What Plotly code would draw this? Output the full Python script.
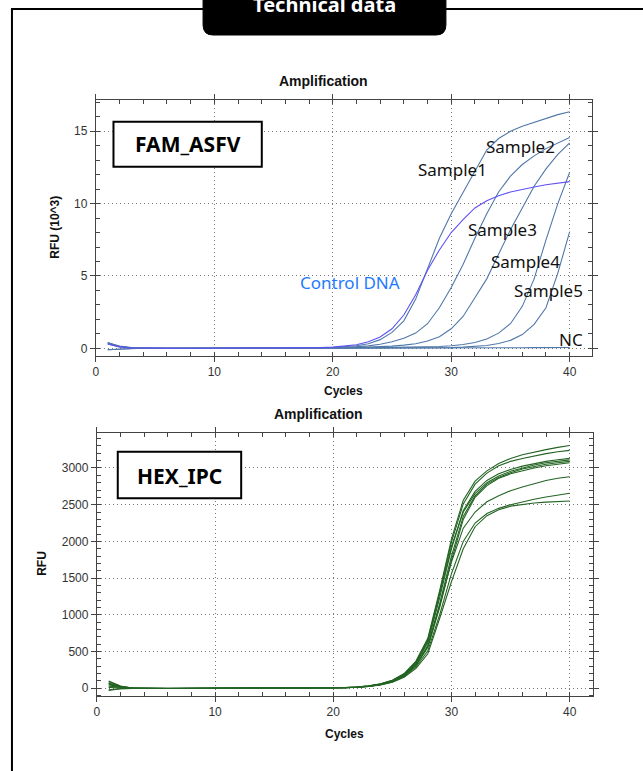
import plotly.graph_objects as go

W, H = 643, 771

cycles = list(range(1, 41))

# ---------------- FAM_ASFV (RFU x10^3) ----------------
fam_sample1 = [0.38, 0.15, 0.05, 0.02, 0.01, 0.00, 0.00, -0.01, 0.00, 0.00,
               -0.01, 0.00, 0.00, 0.00, 0.00, 0.01, 0.01, 0.02, 0.04, 0.06,
               0.10, 0.18, 0.32, 0.60, 1.10, 1.90, 3.40, 5.50, 7.60, 9.30,
               10.80, 12.30, 13.70, 14.50, 15.00, 15.35, 15.62, 15.88, 16.15, 16.35]
fam_sample2 = [-0.10, -0.05, -0.02, 0.00, 0.00, 0.00, -0.01, 0.00, 0.00, 0.00,
               0.00, -0.01, 0.00, 0.00, 0.00, 0.00, 0.01, 0.01, 0.02, 0.03,
               0.05, 0.10, 0.17, 0.28, 0.45, 0.70, 1.05, 1.70, 2.80, 4.20,
               5.80, 7.60, 9.30, 10.80, 11.90, 12.70, 13.30, 13.80, 14.20, 14.56]
fam_sample3 = [0.40, 0.12, 0.02, 0.00, 0.00, -0.01, 0.00, 0.00, 0.00, 0.00,
               0.00, 0.00, -0.01, 0.00, 0.00, 0.00, 0.00, 0.01, 0.02, 0.03,
               0.04, 0.05, 0.07, 0.10, 0.15, 0.22, 0.32, 0.50, 0.80, 1.35,
               2.20, 3.50, 4.80, 6.50, 8.20, 9.70, 11.20, 12.40, 13.40, 14.20]
fam_sample4 = [-0.10, -0.04, -0.01, 0.00, 0.00, 0.00, 0.00, 0.00, -0.01, 0.00,
               0.00, 0.00, 0.00, 0.00, 0.00, 0.00, 0.00, 0.01, 0.01, 0.02,
               0.02, 0.03, 0.04, 0.05, 0.06, 0.07, 0.08, 0.10, 0.13, 0.18,
               0.26, 0.40, 0.65, 1.05, 1.70, 2.90, 4.80, 7.50, 10.00, 12.17]
fam_sample5 = [0.30, 0.10, 0.02, 0.00, 0.00, 0.00, 0.00, -0.01, 0.00, 0.00,
               0.00, 0.00, 0.00, -0.01, 0.00, 0.00, 0.00, 0.00, 0.01, 0.01,
               0.01, 0.02, 0.02, 0.02, 0.03, 0.03, 0.03, 0.04, 0.04, 0.05,
               0.08, 0.12, 0.20, 0.33, 0.55, 0.95, 1.65, 2.80, 5.20, 8.06]
fam_nc = [0.35, 0.12, 0.03, 0.00, 0.00, 0.00, 0.00, 0.00, 0.00, -0.01,
          0.00, 0.00, 0.00, 0.00, 0.00, 0.00, 0.00, 0.00, 0.01, 0.01,
          0.01, 0.01, 0.01, 0.01, 0.02, 0.02, 0.02, 0.02, 0.02, 0.03,
          0.03, 0.03, 0.03, 0.04, 0.04, 0.04, 0.05, 0.05, 0.05, 0.06]
fam_control = [0.30, 0.10, 0.03, 0.01, 0.00, 0.00, 0.00, 0.00, 0.00, 0.00,
               0.00, 0.00, 0.00, 0.00, 0.00, 0.01, 0.02, 0.03, 0.05, 0.08,
               0.14, 0.25, 0.45, 0.78, 1.35, 2.30, 3.70, 5.40, 6.80, 8.00,
               8.90, 9.70, 10.20, 10.55, 10.80, 11.00, 11.15, 11.30, 11.42, 11.52]

fam_series = [
    ("Sample1", fam_sample1), ("Sample2", fam_sample2), ("Sample3", fam_sample3),
    ("Sample4", fam_sample4), ("Sample5", fam_sample5), ("NC", fam_nc),
]

# ---------------- HEX_IPC (RFU) ----------------
hex_1 = [100, 32, 5, 0, -2, -3, -2, -1, 0, -1, -2, -2, -1, 0, 0, 1, 1, 2, 3, 5,
         10, 18, 33, 60, 110, 200, 370, 680, 1330, 2030,
         2560, 2820, 2960, 3060, 3130, 3180, 3220, 3250, 3280, 3305]
hex_2 = [60, 20, 2, -1, -3, -4, -3, -2, -1, -2, -3, -2, -2, -1, 0, 0, 1, 2, 3, 4,
         9, 17, 32, 58, 105, 195, 360, 660, 1300, 1990,
         2510, 2780, 2930, 3030, 3090, 3130, 3165, 3195, 3220, 3240]
hex_3 = [-30, -6, -2, -2, -3, -3, -2, -2, -1, -1, -2, -3, -2, -1, -1, 0, 0, 1, 2, 4,
         8, 16, 30, 55, 100, 185, 340, 620, 1230, 1900,
         2420, 2680, 2830, 2920, 2980, 3025, 3060, 3090, 3112, 3130]
hex_4 = [90, 28, 4, 0, -2, -2, -1, 0, 0, -1, -1, -1, 0, 0, 1, 1, 2, 2, 3, 5,
         9, 17, 31, 57, 104, 190, 350, 640, 1270, 1930,
         2400, 2650, 2800, 2890, 2955, 3000, 3040, 3070, 3092, 3110]
hex_5 = [50, 15, 1, -2, -3, -3, -2, -1, -1, -2, -2, -2, -1, -1, 0, 0, 1, 1, 2, 4,
         8, 15, 28, 52, 95, 175, 320, 580, 1150, 1800,
         2340, 2620, 2780, 2870, 2935, 2985, 3020, 3050, 3072, 3090]
hex_6 = [-20, -5, -2, -3, -4, -3, -3, -2, -2, -2, -3, -3, -2, -2, -1, -1, 0, 1, 2, 3,
         7, 14, 27, 50, 92, 170, 310, 560, 1100, 1740,
         2300, 2600, 2760, 2860, 2920, 2965, 3000, 3030, 3052, 3070]
hex_7 = [70, 24, 3, 0, -1, -2, -1, 0, 0, 0, -1, -1, 0, 0, 0, 1, 1, 2, 3, 4,
         8, 15, 28, 52, 96, 175, 320, 570, 1120, 1720,
         2180, 2400, 2540, 2620, 2690, 2740, 2790, 2830, 2860, 2880]
hex_8 = [30, 10, 0, -2, -3, -2, -2, -1, -1, -1, -2, -2, -1, -1, 0, 0, 1, 1, 2, 3,
         7, 13, 25, 47, 87, 160, 290, 510, 1000, 1560,
         2000, 2250, 2380, 2450, 2500, 2540, 2575, 2605, 2632, 2655]
hex_9 = [10, 5, 0, -1, -2, -2, -1, -1, 0, -1, -1, -1, -1, 0, 0, 0, 1, 1, 2, 3,
         6, 12, 24, 45, 83, 150, 270, 470, 950, 1450,
         1900, 2200, 2350, 2430, 2480, 2505, 2522, 2535, 2545, 2550]

hex_series = [hex_1, hex_2, hex_3, hex_4, hex_5, hex_6, hex_7, hex_8, hex_9]

fam_yticks = [0, 5, 10, 15]
hex_yticks = [0, 500, 1000, 1500, 2000, 2500, 3000]
x_ticks = [0, 10, 20, 30, 40]

# ---------------- helpers (layout only) ----------------
def px(x):
    return x / W

def py(y):
    return 1 - y / H

fig = go.Figure()

SAMPLE_COLOR = "rgb(80,120,170)"
CONTROL_COLOR = "rgb(95,80,245)"
HEX_COLOR = "rgb(35,100,35)"

for name, vals in fam_series:
    fig.add_trace(go.Scatter(x=cycles, y=vals, mode="lines", name=name,
                             line=dict(color=SAMPLE_COLOR, width=1.1),
                             xaxis="x", yaxis="y", showlegend=False))
fig.add_trace(go.Scatter(x=cycles, y=fam_control, mode="lines", name="Control DNA",
                         line=dict(color=CONTROL_COLOR, width=1.1),
                         xaxis="x", yaxis="y", showlegend=False))

for i, vals in enumerate(hex_series):
    fig.add_trace(go.Scatter(x=cycles, y=vals, mode="lines", name=f"IPC {i+1}",
                             line=dict(color=HEX_COLOR, width=1.1),
                             xaxis="x2", yaxis="y2", showlegend=False))

tickfont = dict(family="Liberation Sans, Arial, sans-serif", size=12, color="#333")
GRID_DASH = "1px,3px"

def xaxis(domain, anchor, rng):
    return dict(domain=domain, anchor=anchor, range=rng, tickvals=x_ticks,
                showline=True, linecolor="#444", linewidth=1, mirror="allticks",
                ticks="outside", ticklen=5, tickcolor="#444",
                minor=dict(dtick=2, tick0=0, ticks="inside", ticklen=4, tickcolor="#444", showgrid=False),
                showgrid=True, gridcolor="#777", griddash=GRID_DASH, gridwidth=1,
                zeroline=False, tickfont=tickfont, fixedrange=True)

def yaxis(domain, anchor, rng, ticks, minor_dtick):
    return dict(domain=domain, anchor=anchor, range=rng, tickvals=ticks,
                showline=True, linecolor="#444", linewidth=1, mirror="allticks",
                ticks="outside", ticklen=5, tickcolor="#444",
                minor=dict(dtick=minor_dtick, tick0=0, ticks="inside", ticklen=4, tickcolor="#444", showgrid=False),
                showgrid=True, gridcolor="#777", griddash=GRID_DASH, gridwidth=1,
                zeroline=False, tickfont=tickfont, fixedrange=True)

fig.update_layout(
    width=W, height=H,
    margin=dict(l=0, r=0, t=0, b=0),
    paper_bgcolor="white", plot_bgcolor="white",
    xaxis=xaxis([px(93.3), px(591.7)], "y", [0, 41.88]),
    yaxis=yaxis([py(355.7), py(100)], "x", [-0.51, 17.16], fam_yticks, 1),
    xaxis2=xaxis([px(94.3), px(592.7)], "y2", [0, 41.97]),
    yaxis2=yaxis([py(695.7), py(433.3)], "x2", [-101, 3472], hex_yticks, 100),
)

shapes = []
# outer frame
shapes.append(dict(type="line", xref="paper", yref="paper", x0=px(9), y0=py(9), x1=px(201), y1=py(9),
                   line=dict(color="black", width=2)))
shapes.append(dict(type="line", xref="paper", yref="paper", x0=px(445), y0=py(9), x1=px(643), y1=py(9),
                   line=dict(color="black", width=2)))
shapes.append(dict(type="line", xref="paper", yref="paper", x0=px(9), y0=py(8), x1=px(9), y1=py(771),
                   line=dict(color="black", width=2)))
# header rounded box
x0, x1, ytop, ybot, r = 201, 445, -20, 35, 10
path = (f"M {px(x0)},{py(ytop)} L {px(x0)},{py(ybot - r)} "
        f"Q {px(x0)},{py(ybot)} {px(x0 + r)},{py(ybot)} "
        f"L {px(x1 - r)},{py(ybot)} Q {px(x1)},{py(ybot)} {px(x1)},{py(ybot - r)} "
        f"L {px(x1)},{py(ytop)} Z")
shapes.append(dict(type="path", xref="paper", yref="paper", path=path,
                   fillcolor="black", line=dict(color="black", width=1)))
# label boxes
shapes.append(dict(type="rect", xref="paper", yref="paper", x0=px(111), x1=px(260), y0=py(166.7), y1=py(121.7),
                   fillcolor="white", line=dict(color="black", width=2), layer="above"))
shapes.append(dict(type="rect", xref="paper", yref="paper", x0=px(115.3), x1=px(239.3), y0=py(498.3), y1=py(451.7),
                   fillcolor="white", line=dict(color="black", width=2), layer="above"))
fig.update_layout(shapes=shapes)

ann = []
def add_text(text, x, y, size, color="#111", family="Noto Sans, sans-serif", angle=0, xanchor="center"):
    ann.append(dict(text=text, x=px(x), y=py(y), xref="paper", yref="paper", showarrow=False,
                    xanchor=xanchor, yanchor="middle", textangle=angle,
                    font=dict(size=size, color=color, family=family)))

arial = "Liberation Sans, Arial, sans-serif"
add_text("<b>Technical data</b>", 323, 5, 20, color="white")
add_text("<b>Amplification</b>", 322, 81, 14, color="#111", family=arial)
add_text("<b>Amplification</b>", 317, 414, 14, color="#111", family=arial)
add_text("<b>Cycles</b>", 342, 391, 12, color="#111", family=arial)
add_text("<b>Cycles</b>", 343, 734, 12, color="#111", family=arial)
add_text("<b>RFU (10^3)</b>", 52, 227, 12, color="#111", family=arial, angle=-90)
add_text("<b>RFU</b>", 39, 563, 12, color="#111", family=arial, angle=-90)
add_text("<b>FAM_ASFV</b>", 185.5, 144.3, 21, color="black")
add_text("<b>HEX_IPC</b>", 177.3, 475.5, 21, color="black")
# curve labels
add_text("Sample1", 451.7, 169, 17)
add_text("Sample2", 520, 146, 17)
add_text("Sample3", 502, 229.5, 17)
add_text("Sample4", 525, 261.5, 17)
add_text("Sample5", 548, 290, 17)
add_text("NC", 570.8, 339.3, 17)
add_text("Control DNA", 349, 282.7, 17, color="rgb(30,122,255)")
fig.update_layout(annotations=ann)

fig.write_html("out.html", config={"displayModeBar": False, "staticPlot": True},
               post_script="document.body.style.margin='0';document.body.style.overflow='hidden';")
